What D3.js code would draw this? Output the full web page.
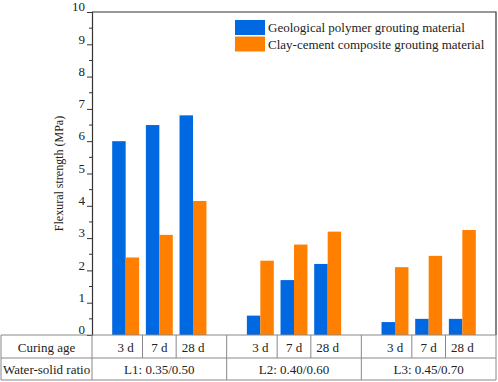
<!DOCTYPE html>
<html>
<head>
<meta charset="utf-8">
<script src="https://cdn.jsdelivr.net/npm/d3@7"></script>
<style>
  body { margin: 0; background: #fff; }
  svg text { font-family: "Liberation Serif", "DejaVu Serif", serif !important; fill: #222; }
</style>
</head>
<body>
<svg id="chart" width="498" height="382"></svg>
<script>
// Data
const curingAges = ["3 d", "7 d", "28 d"];
const ratioGroups = ["L1: 0.35/0.50", "L2: 0.40/0.60", "L3: 0.45/0.70"];
const seriesNames = ["Geological polymer grouting material", "Clay-cement composite grouting material"];
const geopolymer = [6.0, 6.5, 6.8, 0.6, 1.7, 2.2, 0.4, 0.5, 0.5];
const clayCement = [2.4, 3.1, 4.15, 2.3, 2.8, 3.2, 2.1, 2.45, 3.25];
const yTicks = [0, 1, 2, 3, 4, 5, 6, 7, 8, 9, 10];
const colors = ["#0068e0", "#ff8000"];
const serif = "Liberation Serif, serif";

const svg = d3.select("#chart");
const margin = { top: 12, right: 2, bottom: 47, left: 92 };
const W = 498, H = 382;
const plotRight = W - margin.right;
const plotBottom = H - margin.bottom;

// slot positions: 3 ages per group, one empty slot between groups
const slotOf = (g, a) => 1 + g * 4 + a;

const x = d3.scaleLinear().domain([0, 12]).range([margin.left, plotRight]);
const y = d3.scaleLinear().domain([0, 10]).range([plotBottom, margin.top]);
const barW = x(0.4) - x(0);

const rows = [];
ratioGroups.forEach((g, gi) => {
  curingAges.forEach((a, ai) => {
    const i = gi * 3 + ai;
    rows.push({ slot: slotOf(gi, ai), age: a, vals: [geopolymer[i], clayCement[i]] });
  });
});

// bars
rows.forEach(r => {
  r.vals.forEach((v, si) => {
    svg.append("rect")
      .attr("x", si === 0 ? x(r.slot) - barW : x(r.slot))
      .attr("y", y(v))
      .attr("width", barW)
      .attr("height", y(0) - y(v))
      .attr("fill", colors[si]);
  });
});

// frame (top + right)
svg.append("path")
  .attr("d", `M${margin.left},${margin.top}H${plotRight}V${plotBottom}`)
  .attr("fill", "none")
  .attr("stroke", "#333")
  .attr("stroke-width", 1.2);

// y axis with major and minor ticks
const yAxis = svg.append("g")
  .attr("transform", `translate(${margin.left},0)`)
  .call(d3.axisLeft(y).tickValues(yTicks).tickSize(5).tickFormat(d3.format("d")));
yAxis.attr("font-family", serif).attr("font-size", 13);
yAxis.select(".domain").attr("stroke", "#333").attr("stroke-width", 1.2);
yAxis.selectAll(".tick line").attr("stroke", "#333");
yAxis.selectAll(".tick text")
  .attr("x", -7)
  .attr("dy", "-0.1em")
  .attr("fill", "#222");
yAxis.selectAll(".minor")
  .data(d3.range(0.5, 10, 1))
  .enter().append("line")
  .attr("x1", -3).attr("x2", 0)
  .attr("y1", d => y(d)).attr("y2", d => y(d))
  .attr("stroke", "#333");

svg.append("text")
  .attr("transform", `translate(63,${(margin.top + plotBottom) / 2}) rotate(-90)`)
  .attr("text-anchor", "middle")
  .attr("font-family", serif)
  .attr("font-size", 12)
  .text("Flexural strength (MPa)");

// legend
const legend = svg.append("g").attr("transform", "translate(235,20)");
seriesNames.forEach((s, i) => {
  legend.append("rect")
    .attr("x", 0).attr("y", i * 16.5)
    .attr("width", 30).attr("height", 15)
    .attr("fill", colors[i]);
  legend.append("text")
    .attr("x", 33).attr("y", i * 16.5 + 12)
    .attr("font-family", serif)
    .attr("font-size", 13)
    .text(s);
});

// table below the plot
const rowTop = plotBottom, rowMid = 358, rowBot = 380;
const tableLeft = 1;
const table = svg.append("g").attr("stroke", "#888").attr("stroke-width", 1);
[rowTop, rowMid, rowBot].forEach(yy => {
  table.append("line").attr("x1", tableLeft).attr("x2", plotRight).attr("y1", yy).attr("y2", yy);
});
table.append("line").attr("x1", tableLeft).attr("x2", tableLeft).attr("y1", rowTop).attr("y2", rowBot);
table.append("line").attr("x1", plotRight).attr("x2", plotRight).attr("y1", rowTop).attr("y2", rowBot);
table.append("line").attr("x1", x(0)).attr("x2", x(0)).attr("y1", rowTop).attr("y2", rowBot);
// age cell boundaries
const ageEdges = [1.5, 2.5, 5.5, 6.5, 9.5, 10.5];
ageEdges.forEach(e => {
  table.append("line").attr("x1", x(e)).attr("x2", x(e)).attr("y1", rowTop).attr("y2", rowMid);
});
// group boundaries
[4, 8].forEach(e => {
  table.append("line").attr("x1", x(e)).attr("x2", x(e)).attr("y1", rowTop).attr("y2", rowBot);
});

svg.append("defs").append("clipPath").attr("id", "labelClip")
  .append("rect").attr("x", tableLeft).attr("y", rowMid).attr("width", x(0) - tableLeft).attr("height", rowBot - rowMid);

const tableText = svg.append("g").attr("font-family", serif).attr("font-size", 13);
tableText.append("text")
  .attr("x", (tableLeft + x(0)) / 2).attr("y", rowMid - 6)
  .attr("text-anchor", "middle")
  .text("Curing age");
tableText.append("text")
  .attr("x", tableLeft + 2).attr("y", rowBot - 6)
  .attr("clip-path", "url(#labelClip)")
  .text("Water-solid ratio");

rows.forEach(r => {
  tableText.append("text")
    .attr("x", x(r.slot)).attr("y", rowMid - 6)
    .attr("text-anchor", "middle")
    .text(r.age);
});
ratioGroups.forEach((g, gi) => {
  tableText.append("text")
    .attr("x", x(gi * 4 + 2)).attr("y", rowBot - 6)
    .attr("text-anchor", "middle")
    .text(g);
});
</script>
</body>
</html>
